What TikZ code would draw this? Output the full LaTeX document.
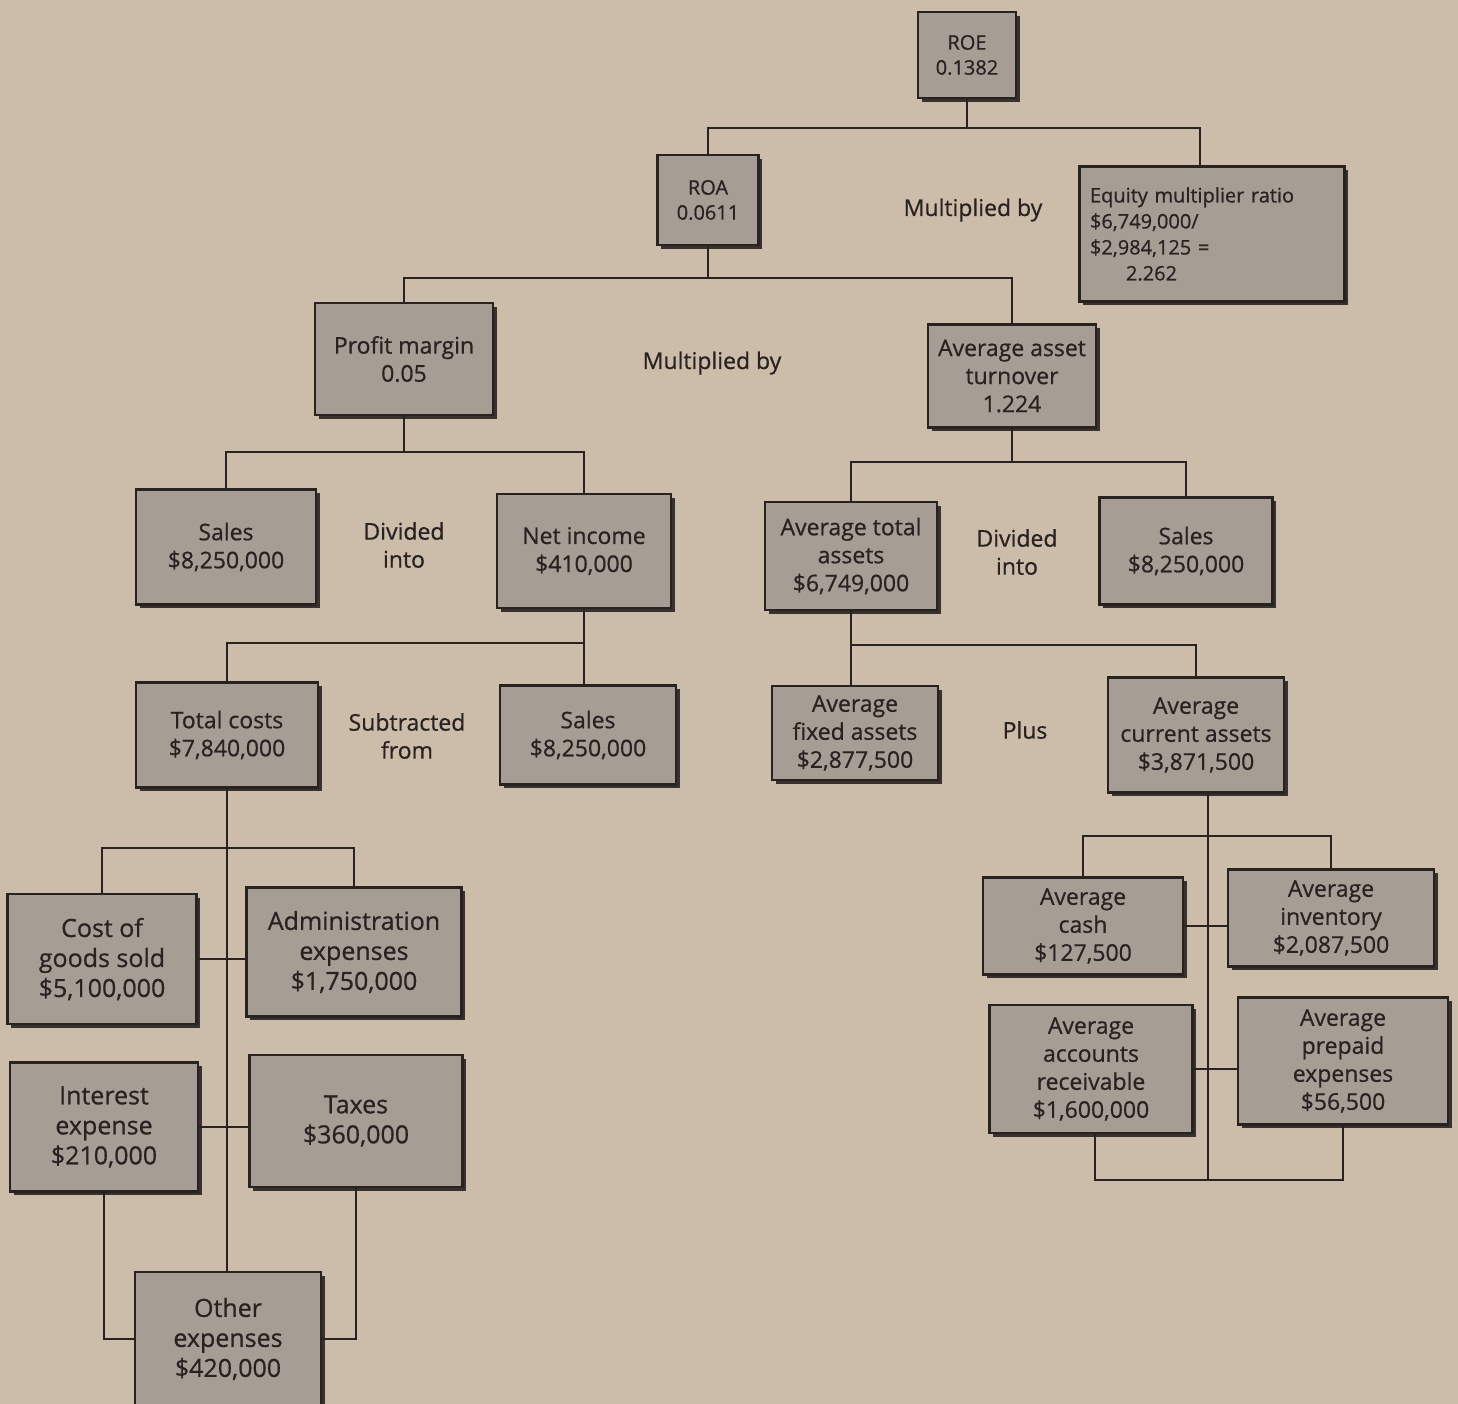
\documentclass[tikz,border=0pt]{standalone}
\usepackage{fontspec}
\setmainfont{Open Sans}[BoldFont={Open Sans}, BoldFeatures={FakeBold=0.7}]
\usetikzlibrary{shadows}
\definecolor{paper}{RGB}{204,189,170}
\definecolor{boxfill}{RGB}{166,158,149}
\definecolor{ink}{RGB}{40,34,33}
\begin{document}
\begin{tikzpicture}[x=0.5pt,y=-0.5pt,
  box/.style={draw=ink, line width=1.3pt, fill=boxfill, text=ink, align=center, inner sep=0pt,
    font=\fontsize{11.5}{14}\selectfont\bfseries,
    drop shadow={shadow xshift=1.8pt, shadow yshift=-1.8pt, fill=ink, opacity=0.9}},
  sz/.style 2 args={minimum width=#1*0.5pt, minimum height=#2*0.5pt},
  small/.style={font=\fontsize{10}{12.5}\selectfont\bfseries},
  big/.style={font=\fontsize{12.5}{15}\selectfont\bfseries},
  lab/.style={text=ink, align=center, font=\fontsize{11.5}{14}\selectfont\bfseries},
  conn/.style={draw=ink, line width=1.2pt}]
\useasboundingbox (0,0) rectangle (1458,1404);
\clip (0,0) rectangle (1458,1404);
\fill[paper] (0,0) rectangle (1458,1404);

% bus levels
\coordinate (b1) at (0,128);
\coordinate (b2) at (0,278);
\coordinate (b3) at (0,452);
\coordinate (b4) at (0,643);
\coordinate (b5) at (0,462);
\coordinate (b6) at (0,645);
\coordinate (b7) at (0,848);
\coordinate (b8) at (0,836);
\coordinate (b9) at (0,1180);

% boxes
\node[box, small, sz={98}{86}] (roe) at (967,55) {ROE\\0.1382};
\node[box, small, sz={101}{90}] (roa) at (708,200) {ROA\\0.0611};
\node[box, sz={265}{135}, align=left, text width=122pt, font=\fontsize{10}{13}\selectfont\bfseries] (eq) at (1212,234)
  {Equity multiplier ratio\\\$6,749,000/\\\$2,984,125 =\\\hspace*{18pt}2.262};
\node[lab] (m1) at (973,210) {Multiplied by};

\node[box, sz={178}{112}] (pm) at (404,359) {Profit margin\\0.05};
\node[lab] (m2) at (712,363) {Multiplied by};
\node[box, sz={168}{103}] (aat) at (1012,376) {Average asset\\turnover\\1.224};

\node[box, sz={180}{115}] (s1) at (226,547) {Sales\\\$8,250,000};
\node[lab] (d1) at (404,545) {Divided\\into};
\node[box, sz={174}{114}] (ni) at (584,551) {Net income\\\$410,000};
\node[box, sz={172}{108}] (ata) at (851,556) {Average total\\assets\\\$6,749,000};
\node[lab] (d2) at (1017,552) {Divided\\into};
\node[box, sz={173}{107}] (s2) at (1186,551) {Sales\\\$8,250,000};

\node[box, sz={182}{105}] (tc) at (227,735) {Total costs\\\$7,840,000};
\node[lab] (sb) at (407,736) {Subtracted\\from};
\node[box, sz={176}{99}] (s3) at (588,735) {Sales\\\$8,250,000};
\node[box, sz={166}{94}] (afa) at (855,733) {Average\\fixed assets\\\$2,877,500};
\node[lab] (pl) at (1025,730) {Plus};
\node[box, sz={176}{115}] (aca) at (1196,735) {Average\\current assets\\\$3,871,500};

\node[box, big, sz={189}{130}] (cogs) at (102,959) {Cost of\\goods sold\\\$5,100,000};
\node[box, big, sz={215}{129}] (adm) at (354,952) {Administration\\expenses\\\$1,750,000};
\node[box, big, sz={188}{129}] (ie) at (104,1127) {Interest\\expense\\\$210,000};
\node[box, big, sz={213}{132}] (tax) at (356,1121) {Taxes\\\$360,000};
\node[box, big, sz={186}{134}] (oe) at (228,1339) {Other\\expenses\\\$420,000};

\node[box, sz={200}{97}] (cash) at (1083,926) {Average\\cash\\\$127,500};
\node[box, sz={206}{97}] (inv) at (1331,918) {Average\\inventory\\\$2,087,500};
\node[box, sz={203}{128}] (ar) at (1091,1069) {Average\\accounts\\receivable\\\$1,600,000};
\node[box, sz={210}{127}] (pre) at (1343,1061) {Average\\prepaid\\expenses\\\$56,500};

% connectors
\begin{scope}[conn]
\draw (roe.south) -- (roe.south |- b1) -| (roa.north);
\draw (roe.south |- b1) -| ([xshift=-6pt]eq.north);
\draw (roa.south) -- (roa.south |- b2) -| (pm.north);
\draw (roa.south |- b2) -| (aat.north);
\draw (pm.south) -- (pm.south |- b3) -| (s1.north);
\draw (pm.south |- b3) -| (ni.north);
\draw (ni.south) -- (ni.south |- s3.north);
\draw (ni.south |- b4) -| (tc.north);
\draw (aat.south) -- (aat.south |- b5) -| (ata.north);
\draw (aat.south |- b5) -| (s2.north);
\draw (ata.south) -- (ata.south |- afa.north);
\draw (ata.south |- b6) -| (aca.north);
% lower left
\draw (tc.south) -- (tc.south |- oe.north);
\draw (cogs.north) -- (cogs.north |- b7) -| (adm.north);
\draw (cogs.east) -- (cogs.east -| adm.west);
\draw (ie.east) -- (ie.east -| tax.west);
\draw (ie.south) -- (ie.south |- oe.west) -- (oe.west);
\draw (tax.south) -- (tax.south |- oe.east) -- (oe.east);
% lower right
\draw ([xshift=6pt]aca.south) -- ([xshift=6pt]aca.south |- b9);
\draw (cash.north) -- (cash.north |- b8) -| (inv.north);
\draw (cash.east) -- (cash.east -| inv.west);
\draw (ar.east) -- (ar.east -| pre.west);
\draw ([xshift=2pt]ar.south) -- ([xshift=2pt]ar.south |- b9) -| (pre.south);
\end{scope}
\end{tikzpicture}
\end{document}
